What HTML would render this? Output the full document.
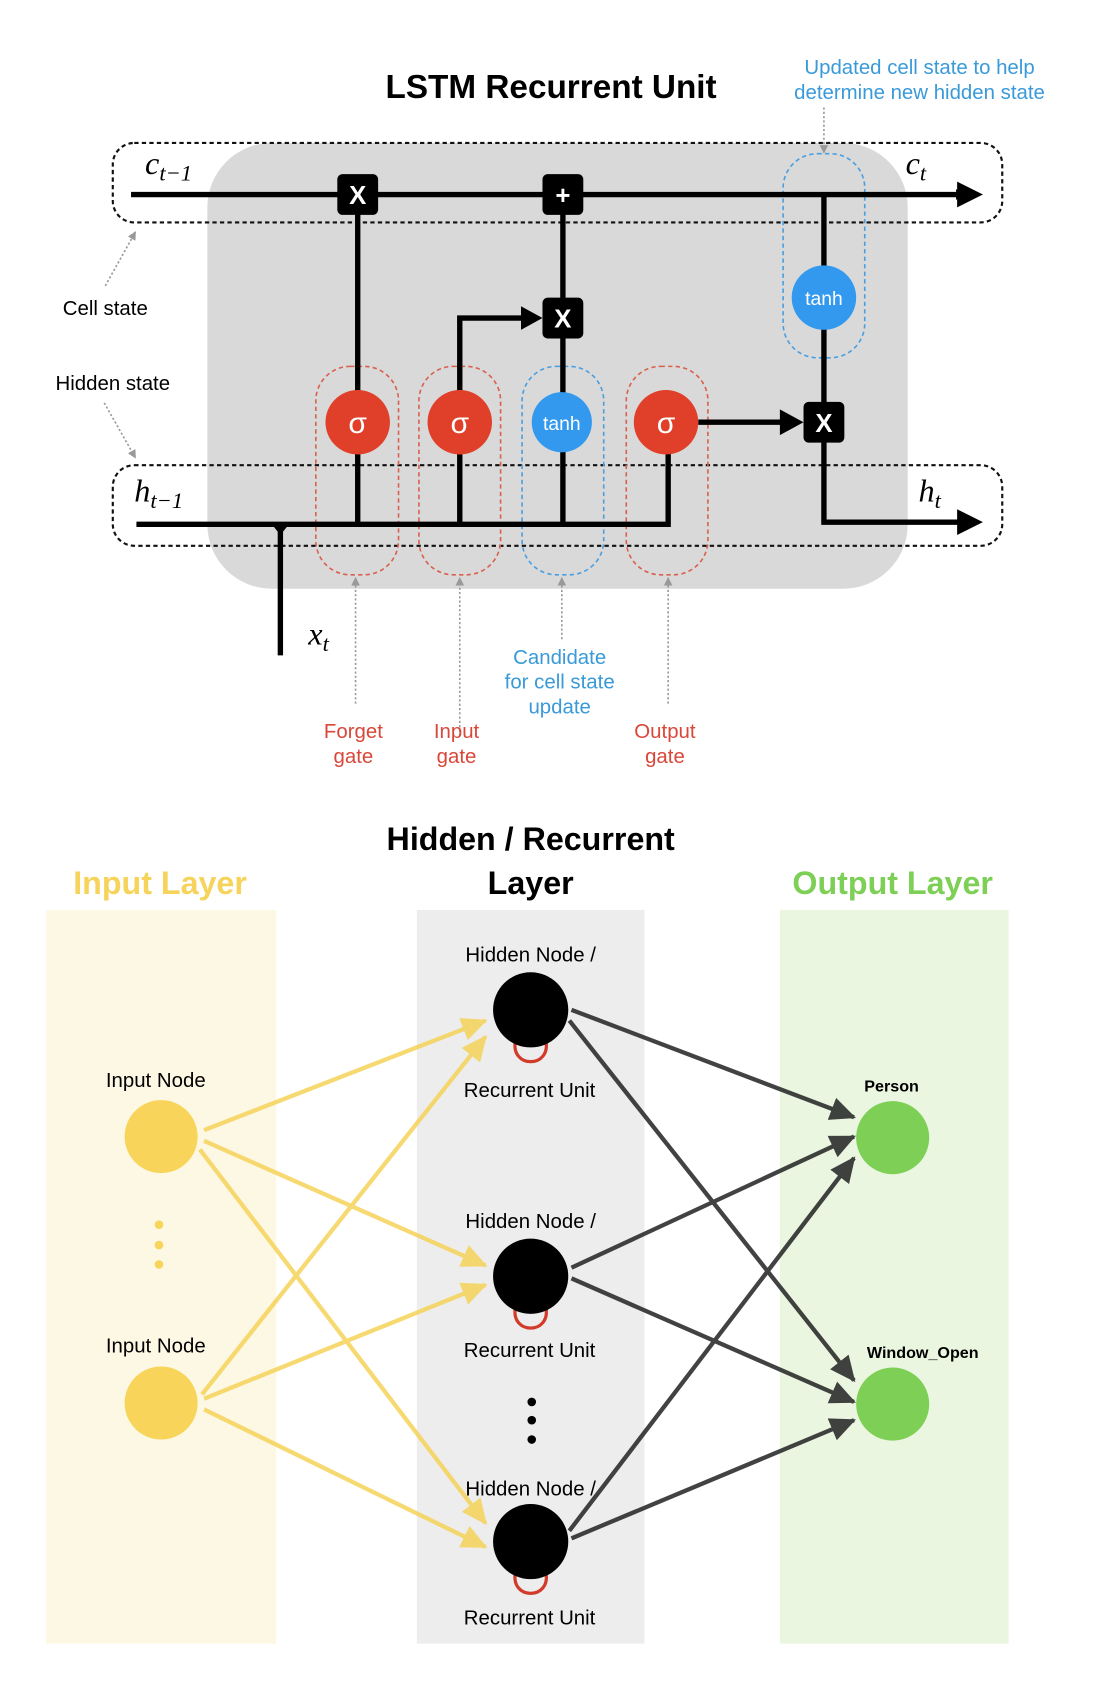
<!DOCTYPE html>
<html><head><meta charset="utf-8"><style>html,body{margin:0;padding:0;background:#fff}svg{display:block}</style></head>
<body>
<svg width="1100" height="1706" viewBox="0 0 1024 1588" xmlns="http://www.w3.org/2000/svg" font-family="Liberation Sans, sans-serif">
<defs>
<marker id="ab" markerWidth="10" markerHeight="10" refX="8" refY="5" orient="auto" markerUnits="userSpaceOnUse"><path d="M0,0 L10,5 L0,10 z" fill="#000"/></marker>
<marker id="ag" markerWidth="8" markerHeight="8" refX="7" refY="4" orient="auto" markerUnits="userSpaceOnUse"><path d="M0,0 L8,4 L0,8 z" fill="#999"/></marker>
<marker id="ay" markerWidth="26" markerHeight="26" refX="22" refY="13" orient="auto" markerUnits="userSpaceOnUse"><path d="M0,2 L24,13 L0,24 z" fill="#f6d35a"/></marker>
<marker id="ak" markerWidth="26" markerHeight="26" refX="22" refY="13" orient="auto" markerUnits="userSpaceOnUse"><path d="M0,2 L24,13 L0,24 z" fill="#222"/></marker>
</defs>
<rect width="1024" height="1588" fill="#fff"/>
<!-- LSTM -->
<text x="513" y="91" font-size="31" font-weight="bold" text-anchor="middle">LSTM Recurrent Unit</text>
<text x="856" y="69" font-size="19" fill="#3a9ad9" text-anchor="middle">Updated cell state to help</text>
<text x="856" y="92" font-size="19" fill="#3a9ad9" text-anchor="middle">determine new hidden state</text>
<rect x="193" y="133" width="652" height="415" rx="60" fill="#d9d9d9"/>
<rect x="105" y="133" width="828" height="74" rx="20" fill="none" stroke="#111" stroke-width="2" stroke-dasharray="4,3"/>
<rect x="105" y="433" width="828" height="75" rx="20" fill="none" stroke="#111" stroke-width="2" stroke-dasharray="4,3"/>
<g fill="none" stroke-width="1.5" stroke-dasharray="4,3">
<rect x="294" y="341" width="77" height="194" rx="32" stroke="#d9604e"/>
<rect x="390" y="341" width="76" height="194" rx="32" stroke="#d9604e"/>
<rect x="486" y="341" width="76" height="194" rx="32" stroke="#4a9fe0"/>
<rect x="583" y="341" width="76" height="194" rx="32" stroke="#d9604e"/>
<rect x="729" y="143" width="76" height="190" rx="32" stroke="#4a9fe0"/>
</g>
<g stroke="#000" stroke-width="5" fill="none">
<line x1="122" y1="181" x2="898" y2="181" marker-end="url(#ab)" stroke-width="5"/>
<line x1="333" y1="181" x2="333" y2="488"/>
<line x1="524" y1="181" x2="524" y2="488"/>
<polyline points="428,488 428,296 496,296"/>
<polyline points="127,488 622,488 622,420"/>
<polyline points="767,181 767,486 895,486"/>
<line x1="650" y1="393" x2="740" y2="393"/>
<line x1="261" y1="488" x2="261" y2="610"/>
</g>
<path d="M915,181 l-24,-12 v24z M915,486 l-24,-12 v24z M505,296 l-20,-11 v22z M748,393 l-22,-12 v24z"/>
<path d="M253,488 h16 l-8,10z"/>
<g fill="#000">
<rect x="314" y="162" width="38" height="38" rx="5"/><rect x="505" y="162" width="38" height="38" rx="5"/>
<rect x="505" y="277" width="38" height="38" rx="5"/><rect x="748" y="374" width="38" height="38" rx="5"/>
</g>
<g fill="#fff" font-size="24" font-weight="bold" text-anchor="middle">
<text x="333" y="190">X</text><text x="524" y="190">+</text><text x="524" y="305">X</text><text x="767" y="402">X</text>
</g>
<g fill="#e0402a"><circle cx="333" cy="393" r="30"/><circle cx="428" cy="393" r="30"/><circle cx="620" cy="393" r="30"/></g>
<g fill="#3399ee"><circle cx="523" cy="393" r="28"/><circle cx="767" cy="277" r="30"/></g>
<g fill="#fff" font-size="28" text-anchor="middle"><text x="333" y="403">σ</text><text x="428" y="403">σ</text><text x="620" y="403">σ</text></g>
<g fill="#fff" font-size="18" text-anchor="middle"><text x="523" y="400">tanh</text><text x="767" y="284">tanh</text></g>
<g font-family="Liberation Serif, serif" font-style="italic" font-size="30">
<text x="135" y="162">c<tspan font-size="21" dy="6">t−1</tspan></text>
<text x="843" y="162">c<tspan font-size="21" dy="6">t</tspan></text>
<text x="125" y="467">h<tspan font-size="21" dy="6">t−1</tspan></text>
<text x="855" y="467">h<tspan font-size="21" dy="6">t</tspan></text>
<text x="287" y="600">x<tspan font-size="21" dy="6">t</tspan></text>
</g>
<text x="98" y="293" font-size="19" text-anchor="middle">Cell state</text>
<text x="105" y="363" font-size="19" text-anchor="middle">Hidden state</text>
<g stroke="#999" stroke-width="1.5" stroke-dasharray="2,2" fill="none">
<line x1="98" y1="266" x2="126" y2="216" marker-end="url(#ag)"/>
<line x1="97" y1="375" x2="126" y2="426" marker-end="url(#ag)"/>
<line x1="331" y1="655" x2="331" y2="538" marker-end="url(#ag)"/>
<line x1="428" y1="685" x2="428" y2="538" marker-end="url(#ag)"/>
<line x1="523" y1="595" x2="523" y2="538" marker-end="url(#ag)"/>
<line x1="622" y1="655" x2="622" y2="538" marker-end="url(#ag)"/>
<line x1="767" y1="100" x2="767" y2="142" marker-end="url(#ag)"/>
</g>
<g font-size="19" text-anchor="middle" fill="#3a9ad9"><text x="521" y="618">Candidate</text><text x="521" y="641">for cell state</text><text x="521" y="664">update</text></g>
<g font-size="19" text-anchor="middle" fill="#d9473a">
<text x="329" y="687">Forget</text><text x="329" y="710">gate</text>
<text x="425" y="687">Input</text><text x="425" y="710">gate</text>
<text x="619" y="687">Output</text><text x="619" y="710">gate</text>
</g>
<!-- RNN -->
<text x="494" y="791" font-size="30" font-weight="bold" text-anchor="middle">Hidden / Recurrent</text>
<text x="494" y="832" font-size="30" font-weight="bold" text-anchor="middle">Layer</text>
<text x="149" y="832" font-size="30" font-weight="bold" text-anchor="middle" fill="#f6d35a">Input Layer</text>
<text x="831" y="832" font-size="30" font-weight="bold" text-anchor="middle" fill="#7dcf55">Output Layer</text>
<rect x="43" y="847" width="214" height="683" fill="#fdf8e4"/>
<rect x="388" y="847" width="212" height="683" fill="#ededed"/>
<rect x="726" y="847" width="213" height="683" fill="#eaf6e0"/>
<g stroke="#f6d35a" stroke-width="4" opacity="0.85" fill="none">
<line x1="190" y1="1052" x2="452" y2="950" marker-end="url(#ay)"/>
<line x1="190" y1="1062" x2="452" y2="1178" marker-end="url(#ay)"/>
<line x1="186" y1="1070" x2="452" y2="1418" marker-end="url(#ay)"/>
<line x1="188" y1="1298" x2="452" y2="965" marker-end="url(#ay)"/>
<line x1="190" y1="1302" x2="452" y2="1196" marker-end="url(#ay)"/>
<line x1="190" y1="1312" x2="452" y2="1440" marker-end="url(#ay)"/>
</g>
<g stroke="#222" stroke-width="4" opacity="0.85" fill="none">
<line x1="532" y1="940" x2="795" y2="1040" marker-end="url(#ak)"/>
<line x1="530" y1="950" x2="795" y2="1285" marker-end="url(#ak)"/>
<line x1="532" y1="1180" x2="795" y2="1058" marker-end="url(#ak)"/>
<line x1="532" y1="1190" x2="795" y2="1305" marker-end="url(#ak)"/>
<line x1="530" y1="1425" x2="795" y2="1078" marker-end="url(#ak)"/>
<line x1="532" y1="1432" x2="795" y2="1322" marker-end="url(#ak)"/>
</g>
<g fill="#f8d55a"><circle cx="150" cy="1058" r="34"/><circle cx="150" cy="1306" r="34"/>
<circle cx="148" cy="1140" r="4"/><circle cx="148" cy="1159" r="4"/><circle cx="148" cy="1177" r="4"/></g>
<g fill="none" stroke="#d23a2a" stroke-width="3">
<path d="M480,968 C474,995 514,995 508,968"/><path d="M480,1216 C474,1243 514,1243 508,1216"/><path d="M480,1463 C474,1490 514,1490 508,1463"/>
</g>
<g fill="#000"><circle cx="494" cy="940" r="35"/><circle cx="494" cy="1188" r="35"/><circle cx="494" cy="1435" r="35"/>
<circle cx="495" cy="1305" r="4"/><circle cx="495" cy="1322" r="4"/><circle cx="495" cy="1340" r="4"/></g>
<g fill="#7dcf55"><circle cx="831" cy="1059" r="34"/><circle cx="831" cy="1307" r="34"/></g>
<g font-size="19" text-anchor="middle">
<text x="145" y="1012">Input Node</text><text x="145" y="1259">Input Node</text>
<text x="494" y="895">Hidden Node /</text><text x="493" y="1021">Recurrent Unit</text>
<text x="494" y="1143">Hidden Node /</text><text x="493" y="1263">Recurrent Unit</text>
<text x="494" y="1392">Hidden Node /</text><text x="493" y="1512">Recurrent Unit</text>
</g>
<text x="830" y="1016" font-size="15" font-weight="bold" text-anchor="middle">Person</text>
<text x="859" y="1264" font-size="15" font-weight="bold" text-anchor="middle">Window_Open</text>
</svg>
</body></html>
